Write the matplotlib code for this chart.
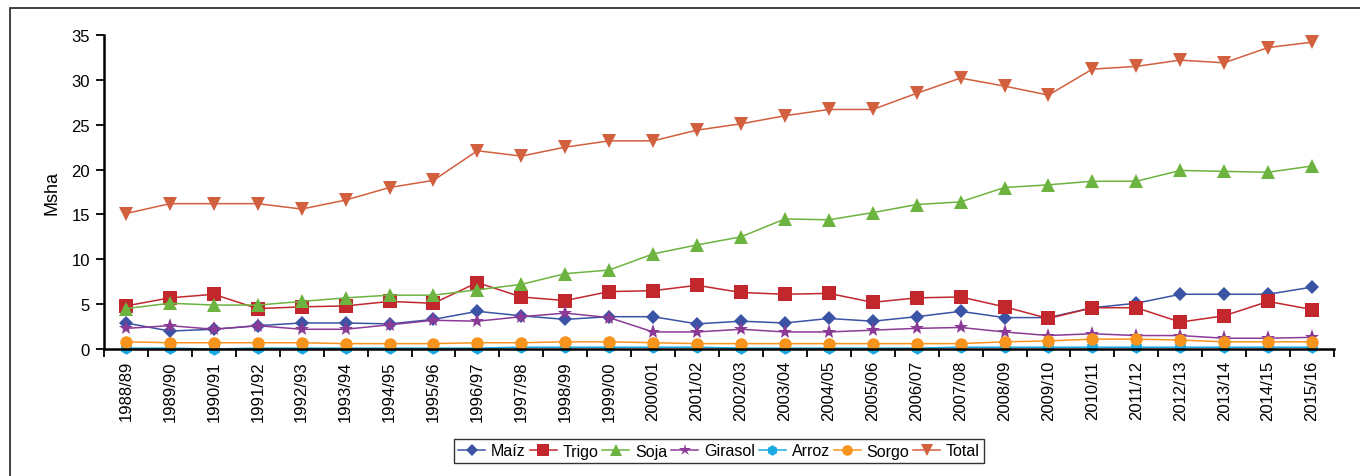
import matplotlib
matplotlib.use("Agg")
import matplotlib.pyplot as plt
from matplotlib.patches import Rectangle
import numpy as np

plt.rcParams['font.family'] = ['Liberation Sans', 'DejaVu Sans']

campanias = ['1988/89', '1989/90', '1990/91', '1991/92', '1992/93', '1993/94',
             '1994/95', '1995/96', '1996/97', '1997/98', '1998/99', '1999/00',
             '2000/01', '2001/02', '2002/03', '2003/04', '2004/05', '2005/06',
             '2006/07', '2007/08', '2008/09', '2009/10', '2010/11', '2011/12',
             '2012/13', '2013/14', '2014/15', '2015/16']

maiz = [2.9, 2.0, 2.2, 2.6, 2.9, 2.9, 2.8, 3.3, 4.2, 3.7, 3.3, 3.6, 3.6, 2.8,
        3.1, 2.9, 3.4, 3.1, 3.6, 4.2, 3.5, 3.5, 4.6, 5.1, 6.1, 6.1, 6.1, 6.9]
trigo = [4.8, 5.7, 6.1, 4.5, 4.7, 4.8, 5.3, 5.1, 7.4, 5.8, 5.4, 6.4, 6.5, 7.1,
         6.3, 6.1, 6.2, 5.2, 5.7, 5.8, 4.7, 3.4, 4.6, 4.6, 3.0, 3.7, 5.3, 4.4]
soja = [4.5, 5.1, 4.9, 4.9, 5.3, 5.7, 6.0, 6.0, 6.6, 7.2, 8.4, 8.8, 10.6, 11.6,
        12.5, 14.5, 14.4, 15.2, 16.1, 16.4, 18.0, 18.3, 18.7, 18.7, 19.9, 19.8, 19.7, 20.4]
girasol = [2.3, 2.6, 2.2, 2.6, 2.2, 2.2, 2.7, 3.2, 3.1, 3.6, 4.0, 3.5, 1.9, 1.9,
           2.2, 1.9, 1.9, 2.1, 2.3, 2.4, 1.9, 1.5, 1.7, 1.5, 1.5, 1.2, 1.2, 1.3]
arroz = [0.1, 0.1, 0.0, 0.1, 0.1, 0.1, 0.1, 0.1, 0.1, 0.2, 0.2, 0.2, 0.2, 0.2,
         0.1, 0.1, 0.1, 0.1, 0.1, 0.2, 0.2, 0.2, 0.2, 0.2, 0.2, 0.2, 0.2, 0.2]
sorgo = [0.8, 0.7, 0.7, 0.7, 0.7, 0.6, 0.6, 0.6, 0.7, 0.7, 0.8, 0.8, 0.7, 0.6,
         0.6, 0.6, 0.6, 0.6, 0.6, 0.6, 0.8, 0.9, 1.1, 1.1, 1.0, 0.8, 0.8, 0.8]
total = [15.1, 16.2, 16.2, 16.2, 15.6, 16.6, 18.0, 18.8, 22.1, 21.5, 22.5, 23.2,
         23.2, 24.4, 25.1, 26.0, 26.7, 26.7, 28.5, 30.2, 29.3, 28.3, 31.2, 31.5,
         32.2, 31.9, 33.6, 34.2]

series = [
    ('Maíz', maiz, '#3A53A4', 'D', 7),
    ('Trigo', trigo, '#C1272D', 's', 10),
    ('Soja', soja, '#6DB33F', '^', 10),
    ('Girasol', girasol, '#8B3A96', '*', 11),
    ('Arroz', arroz, '#1BA9E1', 'h', 9),
    ('Sorgo', sorgo, '#F7941D', 'o', 9),
    ('Total', total, '#D25F3E', 'v', 10),
]

fig = plt.figure(figsize=(13.6, 4.77), dpi=100)
ax = fig.add_axes([104 / 1360, 1 - 350 / 477, 1230 / 1360, 314 / 477])

x = np.arange(len(campanias))
for name, vals, color, mk, ms in series:
    ax.plot(x, vals, color=color, marker=mk, markersize=ms, linewidth=1.1,
            markeredgewidth=0, label=name, clip_on=False, zorder=3)

ax.set_xlim(-0.5, len(campanias) - 0.5)
ax.set_ylim(0, 35)
ax.set_yticks(range(0, 36, 5))
ax.set_xticks(x)
ax.set_xticklabels(campanias, rotation=90, fontsize=12)
ax.set_xticks(np.arange(-0.5, len(campanias), 1), minor=True)
ax.tick_params(axis='x', which='major', length=0, pad=8)
ax.tick_params(axis='x', which='minor', length=6, width=1.3, direction='out')
ax.tick_params(axis='y', length=6, width=1.3, direction='out', labelsize=12, pad=4)

for side in ['top', 'right']:
    ax.spines[side].set_visible(False)
for side in ['left', 'bottom']:
    ax.spines[side].set_linewidth(1.8)
    ax.spines[side].set_zorder(4)

ax.set_ylabel('Msha', fontsize=13, labelpad=8)

leg = ax.legend(loc='center', bbox_to_anchor=(0.5, (477 - 452 - 127) / 314),
                ncol=7, fontsize=11.5, frameon=True, fancybox=False,
                edgecolor='black', handlelength=1.7, handletextpad=0.35,
                columnspacing=0.25, borderpad=0.3, borderaxespad=0,
                markerscale=0.85)
leg.get_frame().set_linewidth(1.0)

# outer frame of the original figure
fig.patches.append(Rectangle((10 / 1360, -0.05), 1.1, 1 - 9 / 477 + 0.05,
                             transform=fig.transFigure, fill=False,
                             edgecolor='#333333', linewidth=1.3))

fig.savefig('out.png', dpi=100)
